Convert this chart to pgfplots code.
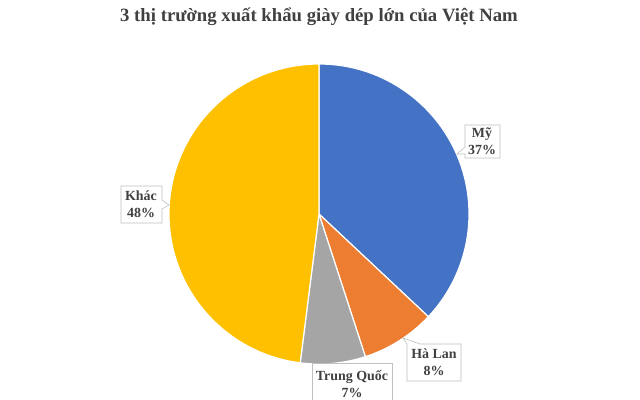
\documentclass[border=0pt]{standalone}
\usepackage{pgfplots}
\pgfplotsset{compat=1.18}
\usepackage{fontspec}
\setmainfont{Liberation Serif}

\definecolor{cMy}{HTML}{4472C4}
\definecolor{cHaLan}{HTML}{ED7D31}
\definecolor{cTQ}{HTML}{A5A5A5}
\definecolor{cKhac}{HTML}{FFC000}
\definecolor{txt}{HTML}{404040}
\definecolor{boxline}{HTML}{BFBFBF}

% slice: #1 = cumulative share before it (%), #2 = share (%), #3 = colour
\newcommand{\slice}[3]{%
  \filldraw[fill=#3, draw=white, line width=1.2bp, line join=round]
    (axis cs:319,214) -- ++({90-3.6*#1}:150bp)
    arc[start angle={90-3.6*#1}, delta angle={-3.6*#2}, radius=150bp] -- cycle;}

\begin{document}
\begin{tikzpicture}
\begin{axis}[
    width=640bp, height=400bp,
    scale only axis,
    xmin=0, xmax=640,
    ymin=0, ymax=400,
    y dir=reverse,
    hide axis,
    clip=false,
]
% shares: Mỹ 37, Hà Lan 8, Trung Quốc 7, Khác 48
\slice{0}{37}{cMy}
\slice{37}{8}{cHaLan}
\slice{45}{7}{cTQ}
\slice{52}{48}{cKhac}

\node[font=\fontsize{18.8}{22}\selectfont\bfseries, text=txt]
  at (axis cs:319,17) {3 thị trường xuất khẩu giày dép lớn của Việt Nam};

% callouts
\filldraw[fill=white, draw=boxline, line width=0.6bp]
  (axis cs:465,125) -- (axis cs:500,125) -- (axis cs:500,158) -- (axis cs:465,158)
  -- (axis cs:465,154) -- (axis cs:457,154) -- (axis cs:465,147) -- cycle;
\filldraw[fill=white, draw=boxline, line width=0.6bp]
  (axis cs:407,381) -- (axis cs:407,344) -- (axis cs:403,338) -- (axis cs:420,344)
  -- (axis cs:461,344) -- (axis cs:461,381) -- cycle;
\filldraw[fill=white, draw=boxline, line width=0.6bp]
  (axis cs:312,363) -- (axis cs:392,363) -- (axis cs:392,404) -- (axis cs:312,404) -- cycle;
\filldraw[fill=white, draw=boxline, line width=0.6bp]
  (axis cs:121,186) -- (axis cs:162,186) -- (axis cs:162,200) -- (axis cs:169,205)
  -- (axis cs:162,209) -- (axis cs:162,223) -- (axis cs:121,223) -- cycle;

\tikzset{lbl/.style={font=\fontsize{14}{17}\selectfont\bfseries, text=txt, align=center, inner sep=0pt}}
\node[lbl] at (axis cs:482,141) {Mỹ\\37\%};
\node[lbl] at (axis cs:434,362) {Hà Lan\\8\%};
\node[lbl] at (axis cs:352,384) {Trung Quốc\\7\%};
\node[lbl] at (axis cs:141,204) {Khác\\48\%};
\end{axis}
\pgfresetboundingbox
\path (0,0) rectangle (640bp,400bp);
\end{tikzpicture}
\end{document}
